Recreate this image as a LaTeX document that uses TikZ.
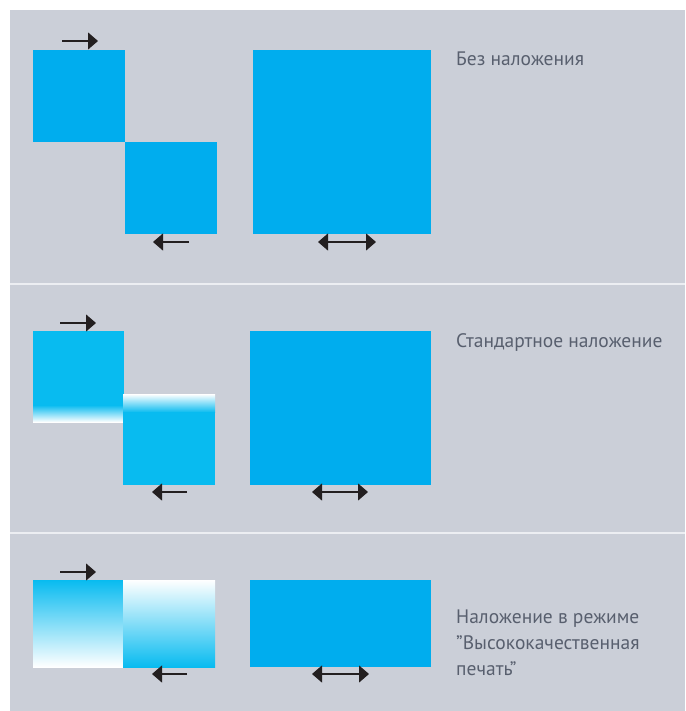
\documentclass[tikz,border=0pt]{standalone}
\usepackage{fontspec}
\setmainfont{PT Sans}
\usetikzlibrary{arrows.meta}
\definecolor{panelgrey}{RGB}{203,207,216}
\definecolor{sepline}{RGB}{236,238,242}
\definecolor{inkcyan}{RGB}{0,173,238}
\definecolor{softcyan}{RGB}{8,187,240}
\definecolor{labelgrey}{RGB}{88,95,110}
\definecolor{arrowink}{RGB}{35,31,32}
\tikzset{
  push arrow/.style={draw=arrowink,line width=1.1pt,-{Triangle[length=10pt,width=17pt]}},
  spread arrow/.style={draw=arrowink,line width=1.1pt,{Triangle[length=10pt,width=17pt]}-{Triangle[length=10pt,width=17pt]}},
  caption/.style={anchor=base west,inner sep=0pt,text=labelgrey,font=\fontsize{19.5}{26}\selectfont,align=left}
}
\begin{document}
\begin{tikzpicture}[x=1pt,y=-1pt]
  \useasboundingbox (0,0) rectangle (685,711);
  \fill[panelgrey] (10,10) rectangle (685,711);
  \fill[sepline] (10,282.5) rectangle (685,284.5);
  \fill[sepline] (10,531.5) rectangle (685,533.5);

  % no overlap
  \fill[inkcyan] (33,50) rectangle (125,142);
  \fill[inkcyan] (125,142) rectangle (217,234);
  \fill[inkcyan] (253,50) rectangle (431,234);
  \draw[push arrow] (62,41) -- (98,41);
  \draw[push arrow] (189,242) -- (153,242);
  \draw[spread arrow] (318,242) -- (376,242);
  \node[caption] (nooverlap) at (456,66) {Без наложения};

  % standard overlap
  \fill[softcyan] (33,331) rectangle (124,405.5);
  \shade[top color=softcyan,bottom color=white] (33,405) rectangle (124,422);
  \shade[top color=white,bottom color=softcyan] (123,394) rectangle (215,412.5);
  \fill[softcyan] (123,412) rectangle (215,485);
  \fill[inkcyan] (250,331) rectangle (431,485);
  \draw[push arrow] (60,323) -- (96,323);
  \draw[push arrow] (187,492) -- (152,492);
  \draw[spread arrow] (312,492) -- (368,492);
  \node[caption] (standard) at (456,347) {Стандартное наложение};

  % high quality overlap
  \shade[top color=softcyan,bottom color=white] (33,580) rectangle (123.5,667);
  \shade[top color=white,bottom color=softcyan] (123,580) rectangle (215,667);
  \fill[inkcyan] (250,580) rectangle (431,667);
  \draw[push arrow] (60,572) -- (96,572);
  \draw[push arrow] (187,674) -- (152,674);
  \draw[spread arrow] (312,674) -- (369,674);
  \node[caption] (quality) at (456,675) {Наложение в режиме\\"Высококачественная\\печать"};
\end{tikzpicture}
\end{document}
